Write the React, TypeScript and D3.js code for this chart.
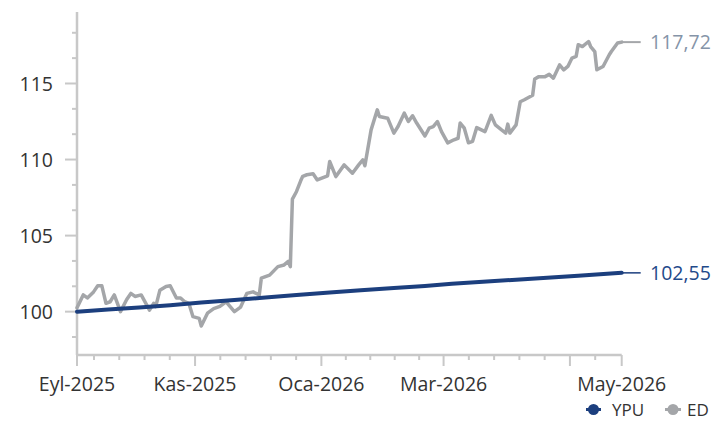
import React from "react";
import * as d3 from "d3";

// ---------- DATA ----------
const edDates = [
  "2025-09-05","2025-09-08","2025-09-10","2025-09-13","2025-09-15","2025-09-17","2025-09-19","2025-09-21","2025-09-23","2025-09-26",
  "2025-09-29","2025-10-01","2025-10-03","2025-10-06","2025-10-10","2025-10-12","2025-10-13","2025-10-15","2025-10-18","2025-10-20",
  "2025-10-23","2025-10-25","2025-10-27","2025-10-29","2025-10-31","2025-11-03","2025-11-04","2025-11-07","2025-11-10","2025-11-13",
  "2025-11-16","2025-11-20","2025-11-23","2025-11-26","2025-11-29","2025-12-02","2025-12-03","2025-12-07","2025-12-11","2025-12-14",
  "2025-12-16","2025-12-17","2025-12-18","2025-12-20","2025-12-22","2025-12-23","2025-12-25","2025-12-28","2025-12-30","2026-01-04",
  "2026-01-05","2026-01-08","2026-01-12","2026-01-16","2026-01-19","2026-01-21","2026-01-22","2026-01-25","2026-01-28","2026-01-29",
  "2026-02-02","2026-02-05","2026-02-07","2026-02-10","2026-02-12","2026-02-14","2026-02-16","2026-02-20","2026-02-22","2026-02-24",
  "2026-02-26","2026-02-28","2026-03-03","2026-03-06","2026-03-08","2026-03-09","2026-03-11","2026-03-13","2026-03-15","2026-03-17",
  "2026-03-21","2026-03-24","2026-03-26","2026-03-29","2026-03-31","2026-04-01","2026-04-02","2026-04-05","2026-04-07","2026-04-09",
  "2026-04-13","2026-04-14","2026-04-16","2026-04-19","2026-04-21","2026-04-23","2026-04-26","2026-04-28","2026-04-30","2026-05-02",
  "2026-05-04","2026-05-05","2026-05-07","2026-05-10","2026-05-11","2026-05-13","2026-05-14","2026-05-17","2026-05-20","2026-05-21",
  "2026-05-24","2026-05-26"
];
const edValues = [
  100.25,101.1,100.9,101.3,101.7,101.7,100.55,100.65,101.1,100.0,
  100.8,101.2,101.0,101.1,100.1,100.55,100.33,101.4,101.65,101.7,
  100.9,100.9,100.65,100.55,99.67,99.56,99.06,99.9,100.2,100.35,
  100.65,100.0,100.3,101.2,101.3,101.1,102.2,102.4,102.96,103.07,
  103.3,102.96,107.4,107.9,108.6,108.9,109.0,109.06,108.66,108.93,
  109.87,108.88,109.65,109.1,109.65,109.98,109.59,111.95,113.27,112.83,
  112.72,111.74,112.17,113.05,112.5,112.88,112.4,111.55,112.06,112.17,
  112.5,111.84,111.1,111.3,111.4,112.4,112.06,111.1,111.2,112.1,
  111.84,112.9,112.28,111.95,111.74,112.33,111.74,112.28,113.8,113.93,
  114.23,115.3,115.45,115.45,115.6,115.35,116.22,115.9,116.12,116.67,
  116.78,117.55,117.43,117.76,117.43,117.1,115.9,116.12,116.89,117.1,
  117.66,117.72
];
const ypuDates = [
  "2025-09-05","2025-09-20","2025-10-05","2025-10-20","2025-11-04","2025-11-20","2025-12-05","2025-12-20","2026-01-05",
  "2026-01-20","2026-02-05","2026-02-20","2026-03-05","2026-03-20","2026-04-05","2026-04-20","2026-05-05","2026-05-26"
];
const ypuValues = [
  100.0,100.14,100.28,100.42,100.6,100.76,100.93,101.1,101.26,
  101.4,101.55,101.69,101.83,101.96,102.1,102.23,102.36,102.55
];
const seriesNames = ["YPU", "ED"];
const endLabels = ["102,55", "117,72"];
const yMajorTicks = [100, 105, 110, 115];
const xLabelDates = ["2025-09-05", "2025-11-01", "2026-01-01", "2026-03-01", "2026-05-26"];
const xLabels = ["Eyl-2025", "Kas-2025", "Oca-2026", "Mar-2026", "May-2026"];
const xMajorTickDates = ["2025-09-05", "2025-11-01", "2026-01-01", "2026-03-01", "2026-05-01", "2026-05-26"];
const xIntervalBounds = ["2025-09-01", "2025-11-01", "2026-01-01", "2026-03-01", "2026-05-01", "2026-07-01"];
const xDomain = ["2025-09-05", "2026-05-26"];
const yDomain = [97.15, 119.7];

// ---------- STYLE ----------
const BLUE = "#1c3f7e";
const GRAY = "#a4a6a9";
const AXIS = "#c8c8c8";
const FONT = "'Open Sans', 'Noto Sans', sans-serif";

const parse = d3.timeParse("%Y-%m-%d");

export default function App() {
  const W = 724, H = 421;
  const left = 77, right = 621.7, top = 12, bottom = 355;

  const x = d3.scaleTime().domain(xDomain.map((d) => parse(d) as Date)).range([left, right]);
  const y = d3.scaleLinear().domain(yDomain).range([bottom, top]);

  const ed = edDates.map((d, i) => ({ date: parse(d) as Date, v: edValues[i] }));
  const ypu = ypuDates.map((d, i) => ({ date: parse(d) as Date, v: ypuValues[i] }));

  const line = d3
    .line<{ date: Date; v: number }>()
    .x((d) => x(d.date))
    .y((d) => y(d.v));

  // y minor ticks: thirds between majors
  const step = yMajorTicks[1] - yMajorTicks[0];
  const yMinor: number[] = [];
  for (let v = yMajorTicks[0] - step; v <= yMajorTicks[yMajorTicks.length - 1] + step; v += step) {
    for (let k = 1; k < 3; k++) {
      const mv = v + (k * step) / 3;
      if (mv > yDomain[0] && mv < yDomain[1]) yMinor.push(mv);
    }
  }

  // x minor ticks: five subdivisions per two-month interval
  const xMinor: number[] = [];
  for (let i = 0; i < xIntervalBounds.length - 1; i++) {
    const a = (parse(xIntervalBounds[i]) as Date).getTime();
    const b = (parse(xIntervalBounds[i + 1]) as Date).getTime();
    for (let k = 1; k < 5; k++) {
      const px = x(new Date(a + ((b - a) * k) / 5));
      if (px > left + 2 && px < right - 4) xMinor.push(px);
    }
  }

  const edLast = ed[ed.length - 1];
  const ypuLast = ypu[ypu.length - 1];
  const legY = 409.5;

  return (
    <svg
      width={W}
      height={H}
      style={{ position: "absolute", left: 0, top: 0, background: "#fff" }}
      fontFamily={FONT}
    >
      {/* axes */}
      <line x1={left} x2={left} y1={top} y2={bottom} stroke={AXIS} strokeWidth={2.5} />
      <line x1={left} x2={right} y1={bottom} y2={bottom} stroke={AXIS} strokeWidth={2.5} />
      {yMinor.map((v, i) => (
        <line key={"ym" + i} x1={left - 5} x2={left} y1={y(v)} y2={y(v)} stroke={AXIS} strokeWidth={2} />
      ))}
      {yMajorTicks.map((v) => (
        <g key={"y" + v}>
          <line x1={left - 12} x2={left} y1={y(v)} y2={y(v)} stroke={AXIS} strokeWidth={2} />
          <text x={53} y={y(v)} dy="0.36em" textAnchor="end" fontSize={19.5} fill="#333">
            {v}
          </text>
        </g>
      ))}
      {xMinor.map((px, i) => (
        <line key={"xm" + i} x1={px} x2={px} y1={bottom} y2={bottom + 5} stroke={AXIS} strokeWidth={2} />
      ))}
      {xMajorTickDates.map((d) => (
        <line key={"xM" + d} x1={x(parse(d) as Date)} x2={x(parse(d) as Date)} y1={bottom} y2={bottom + 11} stroke={AXIS} strokeWidth={2} />
      ))}
      {xLabelDates.map((d, i) => (
        <text key={"xl" + d} x={x(parse(d) as Date)} y={391} textAnchor="middle" fontSize={19.5} fill="#333">
          {xLabels[i]}
        </text>
      ))}

      {/* series */}
      <path d={line(ed) || ""} fill="none" stroke={GRAY} strokeWidth={3.5} strokeLinejoin="round" strokeLinecap="round" />
      <path d={line(ypu) || ""} fill="none" stroke={BLUE} strokeWidth={4} strokeLinejoin="round" strokeLinecap="round" />

      {/* end labels */}
      <line x1={x(edLast.date)} x2={x(edLast.date) + 19} y1={y(edLast.v)} y2={y(edLast.v)} stroke={GRAY} strokeWidth={2} />
      <text x={650} y={y(edLast.v)} dy="0.36em" fontSize={19.5} fill="#8594a8">
        {endLabels[1]}
      </text>
      <line x1={x(ypuLast.date)} x2={x(ypuLast.date) + 19} y1={y(ypuLast.v)} y2={y(ypuLast.v)} stroke={BLUE} strokeWidth={1.5} />
      <text x={650} y={y(ypuLast.v)} dy="0.36em" fontSize={19.5} fill="#1f4a8a">
        {endLabels[0]}
      </text>

      {/* legend */}
      <g>
        <line x1={586} x2={601} y1={legY} y2={legY} stroke={BLUE} strokeWidth={3} />
        <circle cx={593.5} cy={legY} r={5.5} fill={BLUE} />
        <text x={612} y={legY} dy="0.36em" fontSize={17} fill="#333">
          {seriesNames[0]}
        </text>
        <line x1={665} x2={681} y1={legY} y2={legY} stroke={GRAY} strokeWidth={3} />
        <circle cx={673} cy={legY} r={5.5} fill={GRAY} />
        <text x={687} y={legY} dy="0.36em" fontSize={17} fill="#333">
          {seriesNames[1]}
        </text>
      </g>
    </svg>
  );
}
